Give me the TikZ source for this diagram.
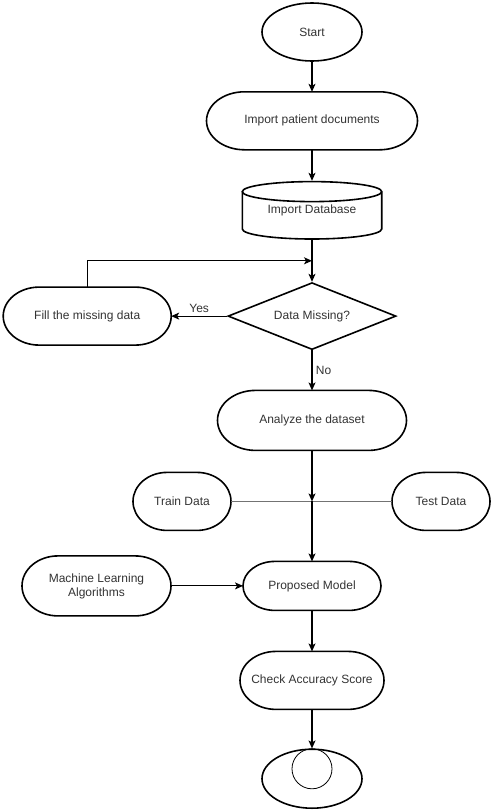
\documentclass[tikz,border=0pt]{standalone}
\usepackage{fontspec}
\setmainfont{Liberation Sans}
\usetikzlibrary{arrows.meta,calc,positioning,shapes.geometric}
\tikzset{
  shapeline/.style={draw=black,line width=1.6pt},
  flowarrow/.style={-{Stealth[length=8pt,width=7pt,inset=2pt]},line width=1.1pt,draw=black},
  datalink/.style={line width=1.5pt,draw=black!55},
  terminal/.style={rectangle,align=center,inner sep=0pt,outer sep=0pt,font=\fontsize{12}{14}\selectfont,text=black!80},
  oval/.style={ellipse,shapeline,fill=white,align=center,inner sep=0pt,font=\fontsize{12}{14}\selectfont,text=black!80},
  decision/.style={diamond,shapeline,fill=white,aspect=2.5,align=center,inner sep=0pt,font=\fontsize{12}{14}\selectfont,text=black!80},
  note/.style={font=\fontsize{12}{14}\selectfont,text=black!80}
}
% terminal outline with elliptic ends: node, x radius, y radius
\newcommand\drawterminal[3]{%
  \draw[shapeline] ([xshift=#2]#1.north west) -- ([xshift=-#2]#1.north east)
    arc[start angle=90,end angle=-90,x radius=#2,y radius=#3] -- ([xshift=#2]#1.south west)
    arc[start angle=270,end angle=90,x radius=#2,y radius=#3] -- cycle;}
\begin{document}
\begin{tikzpicture}[x=1pt,y=-1pt]
  \useasboundingbox (0,0) rectangle (492,812);

  \node[oval,minimum width=100pt,minimum height=58pt] (start) at (312,32) {Start};
  \node[terminal,minimum width=211pt,minimum height=58pt,below=30pt of start] (patients) {Import patient documents};
  \node[terminal,minimum width=141pt,minimum height=59pt,below=31pt of patients] (database) {Import Database};
  \draw[shapeline] ([yshift=-10.8pt]database.north) ellipse [x radius=69.7pt,y radius=10pt];
  \draw[shapeline] ([xshift=0.8pt,yshift=-10.8pt]database.north west) -- ([xshift=0.8pt,yshift=10.8pt]database.south west)
    arc[start angle=180,end angle=360,x radius=69.7pt,y radius=10pt] -- ([xshift=-0.8pt,yshift=-10.8pt]database.north east);
  \coordinate[below=21pt of database] (join);

  \node[decision,minimum width=168pt,minimum height=67pt,below=42pt of database] (missing) {Data Missing?};
  \node[terminal,minimum width=168pt,minimum height=58pt,left=56pt of missing] (fill) {Fill the missing data};
  \node[terminal,minimum width=189pt,minimum height=60pt,below=40pt of missing] (analyze) {Analyze the dataset};

  \coordinate[below=51pt of analyze] (merge);
  \node[terminal,minimum width=98pt,minimum height=58pt,left=81pt of merge] (train) {Train Data};
  \node[terminal,minimum width=98pt,minimum height=58pt,right=80pt of merge] (test) {Test Data};

  \node[terminal,minimum width=138pt,minimum height=49pt,below=60pt of merge] (model) {Proposed Model};
  \node[terminal,minimum width=149pt,minimum height=60pt,left=72pt of model] (algorithms) {Machine Learning\\Algorithms};
  \node[terminal,minimum width=144pt,minimum height=58pt,below=41pt of model] (accuracy) {Check Accuracy Score};
  \node[oval,minimum width=100pt,minimum height=59pt,below=39pt of accuracy] (stop) {};
  \node[circle,draw=black,line width=0.8pt,minimum size=40pt,inner sep=0pt,anchor=north] (stopmark) at (stop.north) {};

  \drawterminal{patients}{38pt}{29pt}
  \drawterminal{fill}{36pt}{29pt}
  \drawterminal{analyze}{38pt}{30pt}
  \drawterminal{train}{34pt}{29pt}
  \drawterminal{test}{34pt}{29pt}
  \drawterminal{model}{32pt}{24.5pt}
  \drawterminal{algorithms}{36pt}{30pt}
  \drawterminal{accuracy}{36pt}{29pt}

  \draw[flowarrow] (start) -- (patients);
  \draw[flowarrow] (patients) -- (database);
  \draw[flowarrow] (database) -- (missing);
  \draw[flowarrow] (fill) |- (join);
  \draw[flowarrow] (missing) -- node[note,above] {Yes} (fill);
  \draw[flowarrow] (missing) -- node[note,right] {No} (analyze);
  \draw[datalink] (train) -- (test);
  \draw[flowarrow] (analyze) -- (merge);
  \draw[flowarrow] (merge) -- (model);
  \draw[flowarrow] (algorithms) -- (model);
  \draw[flowarrow] (model) -- (accuracy);
  \draw[flowarrow] (accuracy) -- (stop);
\end{tikzpicture}
\end{document}
